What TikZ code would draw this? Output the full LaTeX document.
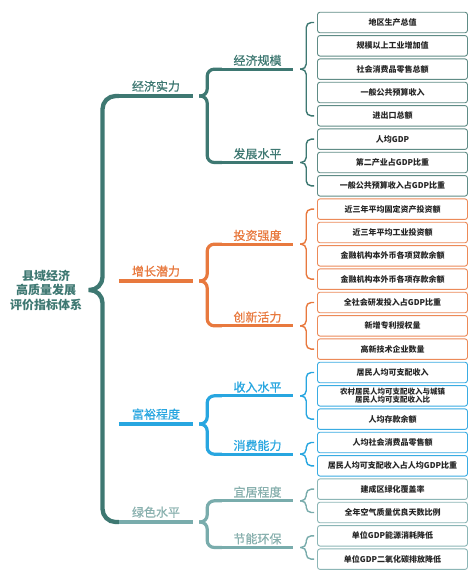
\documentclass[tikz,border=0pt]{standalone}
\usepackage{fontspec}
\setmainfont{Noto Sans CJK SC}
\newfontfamily\midfont[FakeBold=0.7]{Noto Sans CJK SC}
\usepackage{xcolor}
\usepackage{tikz}
\usetikzlibrary{positioning}
\definecolor{ecogreen}{RGB}{62,120,114}
\definecolor{ecobox}{RGB}{96,140,134}
\definecolor{groorange}{RGB}{232,121,62}
\definecolor{groobox}{RGB}{236,138,88}
\definecolor{weablue}{RGB}{40,166,224}
\definecolor{weabox}{RGB}{58,172,226}
\definecolor{envteal}{RGB}{121,172,172}
\definecolor{envtext}{RGB}{136,176,174}
\definecolor{envbox}{RGB}{140,182,182}

% curly brace: [style]{top end}{anchor}{bottom end}{tip shift}{body shift}
\newcommand{\curly}[6][]{%
  \draw[#1] (#2) -| ([xshift=#6]#3) -- ([xshift=#5]#3);
  \draw[#1] ([xshift=#5]#3) -- ([xshift=#6]#3) |- (#4);
}

\begin{document}
\begin{tikzpicture}[x=1pt, y=1pt,
    node distance=23.333pt,
    box/.style={draw=#1, fill=white, rounded corners=2.5pt, line width=0.9pt,
                minimum width=150pt, minimum height=20.5pt, inner sep=1pt,
                align=center, text=black!85, font=\bfseries\fontsize{8}{8}\selectfont},
    cat/.style={anchor=south, minimum width=74pt, inner xsep=0pt, inner ysep=5pt,
                text depth=0pt, font=\midfont\fontsize{12}{12}\selectfont},
    sub/.style={cat, minimum width=71pt, inner ysep=4pt},
    catline/.style={line width=4.5pt},
    subline/.style={line width=3.3pt},
    bigcurl/.style={line width=3.2pt, rounded corners=7pt},
    smallcurl/.style={line width=1.4pt, rounded corners=5pt}
]
    \fill[white] (0,0) rectangle (475,-576);
    \useasboundingbox (0,0) rectangle (475,-576);

    % root
    \node[text=ecogreen, align=center, font=\bfseries\fontsize{12}{14.5}\selectfont] (root) at (46,-290)
        {县域经济\\高质量发展\\评价指标体系};

    % first level
    \node[cat, text=ecogreen] (jjsl) at (156,-96) {经济实力};
    \node[cat, text=groorange] (zzql) at (156,-281) {增长潜力};
    \node[cat, text=weablue] (fycd) at (156,-424) {富裕程度};
    \node[cat, text=envtext] (lssp) at (156,-522) {绿色水平};

    % second level
    \node[sub, text=ecogreen] (jjgm) at (257.5,-69.17) {经济规模};
    \node[sub, text=ecogreen] (fzsp) at (257.5,-162.5) {发展水平};
    \node[sub, text=groorange] (tzqd) at (257.5,-244.17) {投资强度};
    \node[sub, text=groorange] (cxhl) at (257.5,-325.83) {创新活力};
    \node[sub, text=weablue] (srsp) at (257.5,-395.83) {收入水平};
    \node[sub, text=weablue] (xfnl) at (257.5,-454.17) {消费能力};
    \node[sub, text=envtext] (yjcd) at (257.5,-500.83) {宜居程度};
    \node[sub, text=envtext] (jnhb) at (257.5,-547.5) {节能环保};

    % indicators
    \node[box=ecobox] (e1) at (392.5,-22.5) {地区生产总值};
    \node[box=ecobox, below of=e1] (e2) {规模以上工业增加值};
    \node[box=ecobox, below of=e2] (e3) {社会消费品零售总额};
    \node[box=ecobox, below of=e3] (e4) {一般公共预算收入};
    \node[box=ecobox, below of=e4] (e5) {进出口总额};
    \node[box=ecobox, below of=e5] (e6) {人均GDP};
    \node[box=ecobox, below of=e6] (e7) {第二产业占GDP比重};
    \node[box=ecobox, below of=e7] (e8) {一般公共预算收入占GDP比重};
    \node[box=groobox, below of=e8] (g1) {近三年平均固定资产投资额};
    \node[box=groobox, below of=g1] (g2) {近三年平均工业投资额};
    \node[box=groobox, below of=g2] (g3) {金融机构本外币各项贷款余额};
    \node[box=groobox, below of=g3] (g4) {金融机构本外币各项存款余额};
    \node[box=groobox, below of=g4] (g5) {全社会研发投入占GDP比重};
    \node[box=groobox, below of=g5] (g6) {新增专利授权量};
    \node[box=groobox, below of=g6] (g7) {高新技术企业数量};
    \node[box=weabox, below of=g7] (w1) {居民人均可支配收入};
    \node[box=weabox, below of=w1, font=\bfseries\fontsize{7.5}{7}\selectfont] (w2)
        {农村居民人均可支配收入与城镇\\居民人均可支配收入比};
    \node[box=weabox, below of=w2] (w3) {人均存款余额};
    \node[box=weabox, below of=w3] (w4) {人均社会消费品零售额};
    \node[box=weabox, below of=w4] (w5) {居民人均可支配收入占人均GDP比重};
    \node[box=envbox, below of=w5] (l1) {建成区绿化覆盖率};
    \node[box=envbox, below of=l1] (l2) {全年空气质量优良天数比例};
    \node[box=envbox, below of=l2] (l3) {单位GDP能源消耗降低};
    \node[box=envbox, below of=l3] (l4) {单位GDP二氧化碳排放降低};

    % lines
    \draw[catline, ecogreen] (jjsl.south west) -- (jjsl.south east);
    \draw[catline, groorange] (zzql.south west) -- (zzql.south east);
    \draw[catline, weablue] (fycd.south west) -- (fycd.south east);
    \draw[catline, envteal] (lssp.south west) -- (lssp.south east);
    \draw[subline, ecogreen] (jjgm.south west) -- (jjgm.south east);
    \draw[subline, ecogreen] (fzsp.south west) -- (fzsp.south east);
    \draw[subline, groorange] (tzqd.south west) -- (tzqd.south east);
    \draw[subline, groorange] (cxhl.south west) -- (cxhl.south east);
    \draw[subline, weablue] (srsp.south west) -- (srsp.south east);
    \draw[subline, weablue] (xfnl.south west) -- (xfnl.south east);
    \draw[subline, envteal] (yjcd.south west) -- (yjcd.south east);
    \draw[subline, envteal] (jnhb.south west) -- (jnhb.south east);

    % braces
    \curly[ecogreen, line width=4.3pt, rounded corners=13pt]{jjsl.south west}{root.east}{lssp.south west}{3pt}{17pt}
    \curly[bigcurl, ecogreen]{jjgm.south west}{jjsl.south east}{fzsp.south west}{6pt}{14pt}
    \curly[bigcurl, groorange]{tzqd.south west}{zzql.south east}{cxhl.south west}{6pt}{14pt}
    \curly[bigcurl, weablue]{srsp.south west}{fycd.south east}{xfnl.south west}{6pt}{14pt}
    \curly[bigcurl, envteal]{yjcd.south west}{lssp.south east}{jnhb.south west}{6pt}{14pt}
    \curly[smallcurl, ecogreen]{[xshift=-3pt]e1.west}{jjgm.south east}{[xshift=-3pt]e5.west}{7pt}{13pt}
    \curly[smallcurl, ecogreen]{[xshift=-3pt]e6.west}{fzsp.south east}{[xshift=-3pt]e8.west}{7pt}{13pt}
    \curly[smallcurl, groorange]{[xshift=-3pt]g1.west}{tzqd.south east}{[xshift=-3pt]g4.west}{7pt}{13pt}
    \curly[smallcurl, groorange]{[xshift=-3pt]g5.west}{cxhl.south east}{[xshift=-3pt]g7.west}{7pt}{13pt}
    \curly[smallcurl, weablue]{[xshift=-3pt]w1.west}{srsp.south east}{[xshift=-3pt]w3.west}{7pt}{13pt}
    \curly[smallcurl, weablue]{[xshift=-3pt]w4.west}{xfnl.south east}{[xshift=-3pt]w5.west}{7pt}{13pt}
    \curly[smallcurl, envteal]{[xshift=-3pt]l1.west}{yjcd.south east}{[xshift=-3pt]l2.west}{7pt}{13pt}
    \curly[smallcurl, envteal]{[xshift=-3pt]l3.west}{jnhb.south east}{[xshift=-3pt]l4.west}{7pt}{13pt}
\end{tikzpicture}
\end{document}
